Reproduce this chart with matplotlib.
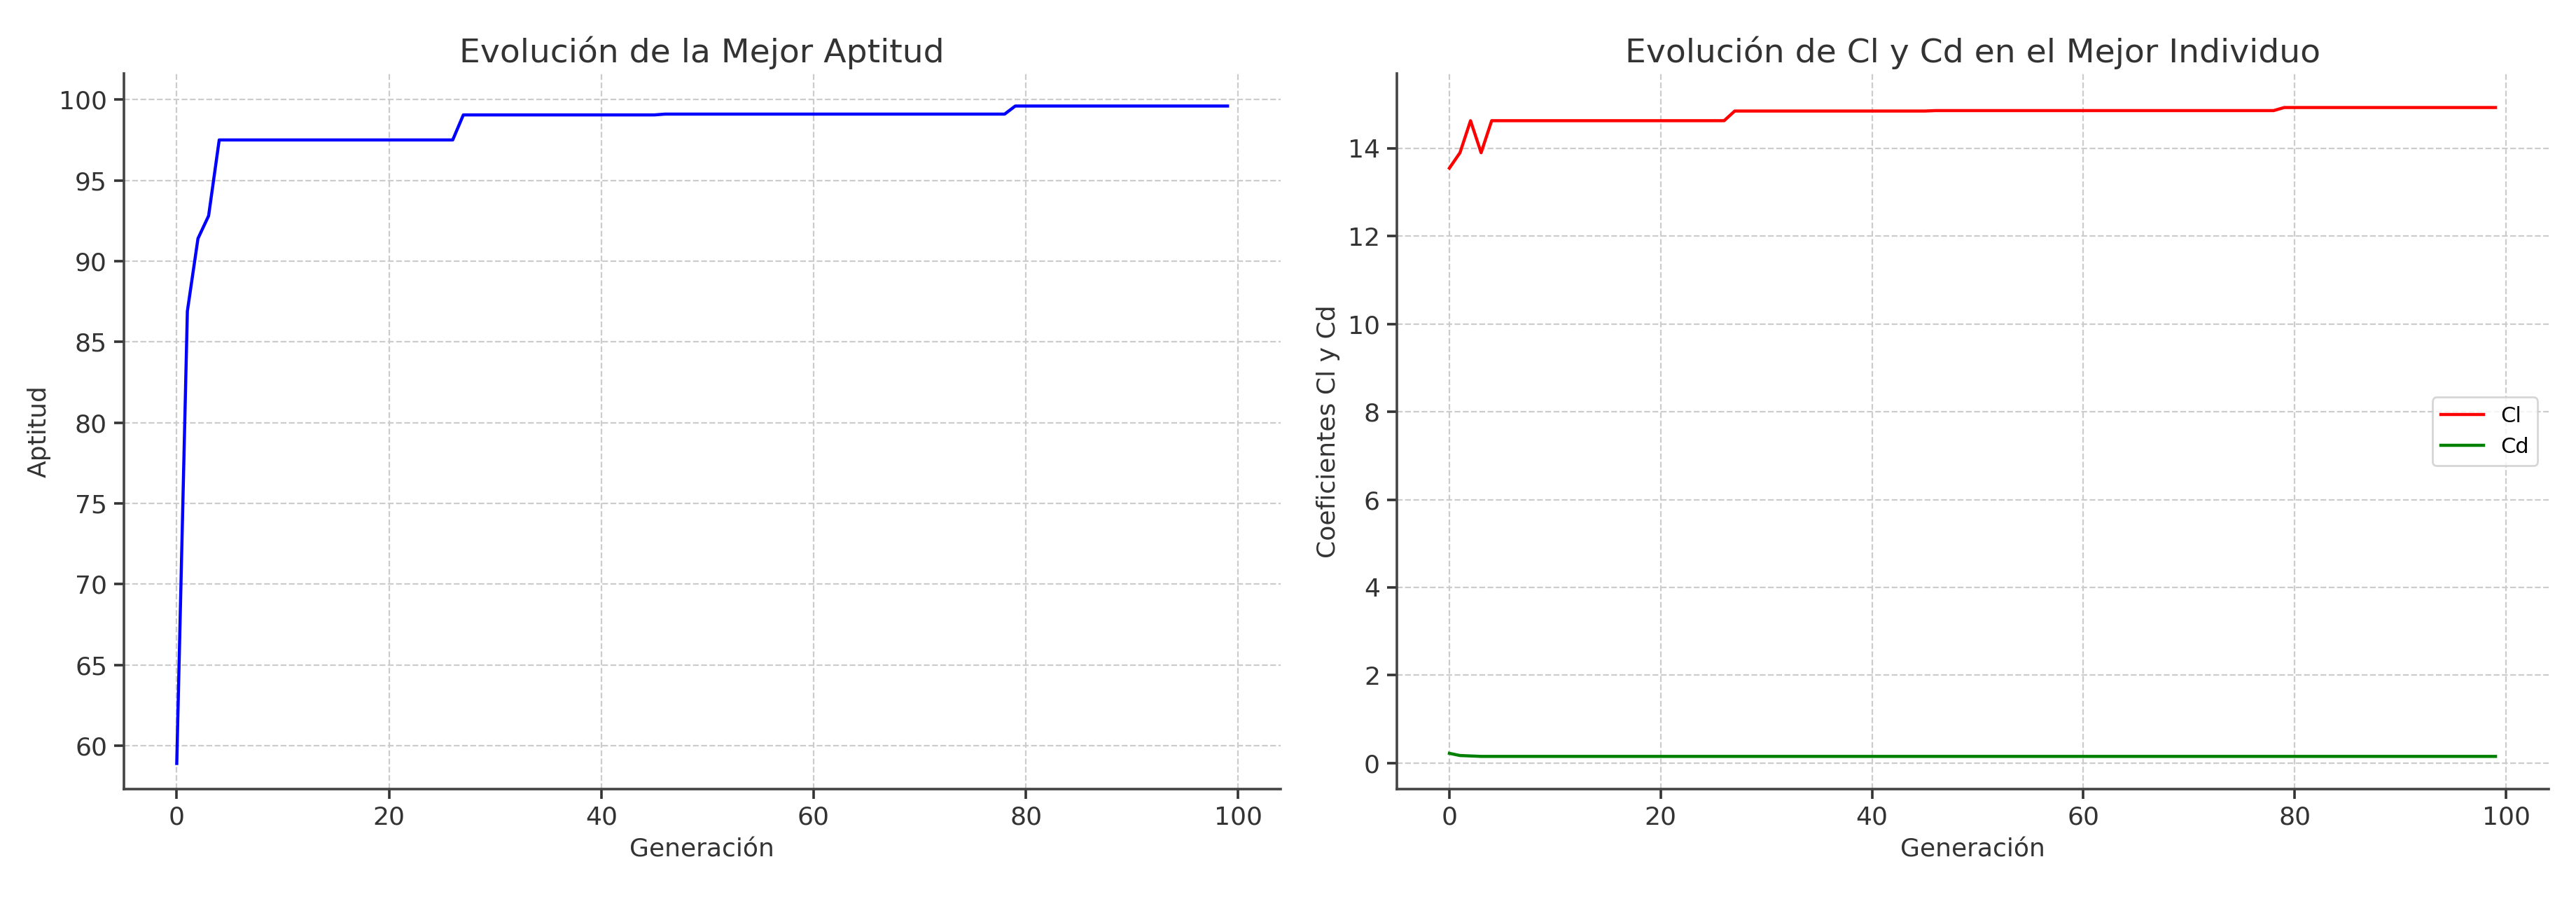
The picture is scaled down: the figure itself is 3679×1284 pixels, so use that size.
import numpy as np
import matplotlib
matplotlib.use("Agg")
import matplotlib.pyplot as plt

# generaciones 0..99, valores (escalones)
generaciones = np.arange(100)

# aptitud: cambios en generaciones puntuales
apt_cambios = {0: 58.9, 1: 86.9, 2: 91.4, 3: 92.8, 4: 97.5, 27: 99.05, 46: 99.1, 79: 99.6}
cl_cambios = {0: 13.55, 1: 13.9, 2: 14.63, 3: 13.9, 4: 14.63, 27: 14.85, 46: 14.86, 79: 14.93}
cd_cambios = {0: 0.22, 1: 0.17, 2: 0.16, 3: 0.15}


def escalones(cambios):
    vals = []
    actual = None
    for g in generaciones:
        if g in cambios:
            actual = cambios[g]
        vals.append(actual)
    return np.array(vals)


aptitud = escalones(apt_cambios)
cl = escalones(cl_cambios)
cd = escalones(cd_cambios)

plt.rcParams['font.family'] = ['DejaVu Sans']
fig = plt.figure(figsize=(18.4, 6.42), dpi=200)
ax1 = fig.add_axes([0.048, 0.122, 0.449, 0.796])
ax2 = fig.add_axes([0.542, 0.122, 0.447, 0.796])

ax1.plot(generaciones, aptitud, color='blue', linewidth=1.6)
ax1.set_title('Evolución de la Mejor Aptitud', fontsize=17, color='#333333')
ax1.set_xlabel('Generación', fontsize=13, color='#333333')
ax1.set_ylabel('Aptitud', fontsize=13, color='#333333')
ax1.set_ylim(57.3, 101.6)
ax1.set_yticks(np.arange(60, 101, 5))

ax2.plot(generaciones, cl, color='red', linewidth=1.6, label='Cl')
ax2.plot(generaciones, cd, color='green', linewidth=1.6, label='Cd')
ax2.set_title('Evolución de Cl y Cd en el Mejor Individuo', fontsize=17, color='#333333')
ax2.set_xlabel('Generación', fontsize=13, color='#333333')
ax2.set_ylabel('Coeficientes Cl y Cd', fontsize=13, color='#333333')
ax2.set_ylim(-0.6, 15.7)
ax2.legend(loc='center right', fontsize=11, frameon=True)

for ax in (ax1, ax2):
    ax.set_xlim(-5, 104)
    ax.set_xticks(np.arange(0, 101, 20))
    ax.grid(True, linestyle='--', color='#cccccc', linewidth=0.8)
    ax.spines['top'].set_visible(False)
    ax.spines['right'].set_visible(False)
    ax.spines['left'].set_color('#444444')
    ax.spines['bottom'].set_color('#444444')
    ax.spines['left'].set_linewidth(1.3)
    ax.spines['bottom'].set_linewidth(1.3)
    ax.tick_params(labelsize=13, colors='#333333', width=1.3, length=5)

fig.savefig('out.png')
